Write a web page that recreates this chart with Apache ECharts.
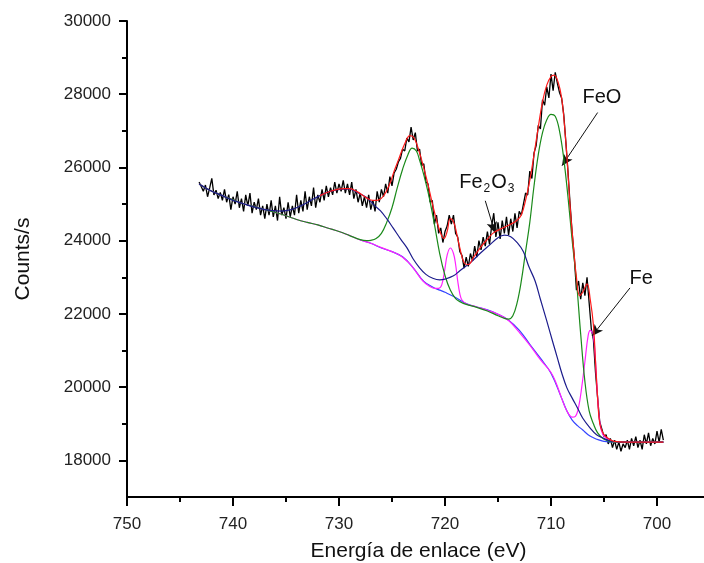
<!DOCTYPE html>
<html>
<head>
<meta charset="utf-8">
<script src="https://cdn.jsdelivr.net/npm/echarts@6/dist/echarts.min.js"></script>
<style>
html,body{margin:0;padding:0;background:#fff;}
#chart{width:704px;height:563px;}
</style>
</head>
<body>
<div id="chart"></div>
<script>
// ticks
var xMajorTicks = [750, 740, 730, 720, 710, 700];
var xMinorTicks = [745, 735, 725, 715, 705];
var yMajorTicks = [18000, 20000, 22000, 24000, 26000, 28000, 30000];
var yMinorTicks = [19000, 21000, 23000, 25000, 27000, 29000];

// measured spectrum, 0.2 eV step starting at 743.2 eV
var rawStart = 743.2;
var rawStep = 0.2;
var rawCounts = [
	25600,25480,25350,25520,25200,25440,25700,25250,25380,25150,
	25320,25100,25400,25050,25260,24850,25200,25000,25350,24900,
	25150,24800,25250,24950,25300,24750,25050,24850,25150,24700,
	24950,24600,25000,24700,25100,24650,24950,24550,25200,24700,
	24900,24600,25050,24650,24950,24700,25250,24750,25100,24800,
	25350,24850,25200,24950,25450,24900,25250,25050,25400,25100,
	25500,25200,25450,25250,25600,25300,25550,25350,25650,25300,
	25550,25250,25600,25150,25400,25050,25300,24950,25200,24900,
	25250,24850,25100,24800,25350,25050,25400,25200,25550,25300,
	25750,25500,25850,25950,26150,26250,26500,26450,26800,26700,
	27100,26750,26950,26450,26500,26050,26100,25600,25550,25050,
	25100,24450,24700,24200,24350,23950,24250,24400,24700,24450,
	24700,24200,24100,23700,23600,23250,23550,23300,23650,23450,
	23850,23550,24000,23750,24100,23850,24250,23900,24400,24750,
	24100,24500,24050,24550,24200,24650,24150,24600,24250,24750,
	24350,24800,24700,25000,25300,25250,25900,25700,26400,26600,
	27150,27050,27850,27700,28200,27900,28550,28100,28600,28300,
	28050,27900,27450,26700,25900,25000,24200,23550,22650,22900,
	22400,22850,22500,23000,22300,21600,21300,20400,19700,19050,
	18850,18650,18700,18450,18600,18350,18550,18300,18500,18250,
	18450,18350,18550,18300,18600,18400,18650,18350,18550,18300,
	18700,18450,18750,18400,18600,18450,18800,18500,18850,18550
];

// fitted curves [eV, counts]
var fitSum = [
	[731.8,25230],[730.8,25350],[729.6,25420],[729,25420],[728.3,25340],[727.4,25170],
	[726.8,25100],[726.3,25110],[725.8,25220],[725.2,25560],[724.8,25900],[724.4,26200],
	[723.8,26650],[723.3,26870],[722.9,26800],[722.4,26400],[721.7,25650],[721.1,24900],
	[720.5,24270],[720.1,24060],[719.8,24250],[719.5,24600],[719.2,24520],[718.9,24200],
	[718.6,23800],[718.2,23400],[717.8,23350],[717.3,23550],[716.7,23800],[716,24040],
	[715.4,24220],[714.6,24340],[713.8,24450],[713.2,24560],[712.8,24700],[712.4,25100],
	[712,25650],[711.6,26350],[711.2,27100],[710.8,27800],[710.4,28250],[710,28480],
	[709.7,28520],[709.3,28300],[709,27900],[708.8,27400],[708.5,26300],[708.2,24950],
	[707.9,23900],[707.6,23000],[707.3,22500],[707,22600],[706.6,22820],[706.3,22400],
	[706,21700],[705.8,20700],[705.6,19700],[705.4,19000],[705.1,18750],[704.7,18620],
	[704,18520],[703,18500],[699.4,18500]
];
var feoFit = [
	[743.2,25550],[742,25350],[741,25230],[740,25120],[739,25010],[738,24930],[737,24850],
	[736,24770],[735,24680],[734,24580],[733,24500],[732,24430],[731,24340],[730,24250],
	[729,24140],[728,24030],[727.4,24000],[727,24010],[726.5,24060],[726,24200],[725.5,24500],
	[725,24900],[724.5,25450],[724,25950],[723.5,26350],[723.1,26530],[722.7,26450],[722.4,26200],
	[722,25800],[721.5,25200],[721,24450],[720.5,23650],[720,23050],[719.5,22650],[719,22420],
	[718.5,22320],[718,22260],[717,22180],[716,22080],[715,21950],[714.4,21880],[714,21860],
	[713.6,21950],[713.2,22300],[712.8,22900],[712.4,23700],[712,24500],[711.6,25500],
	[711.2,26350],[710.8,26950],[710.4,27300],[710,27450],[709.6,27400],[709.2,27000],
	[708.8,26250],[708.4,25200],[708,24000],[707.6,22900],[707.2,21450],[706.8,20150],
	[706.4,19350],[706,19000],[705.6,18750],[705,18580],[704,18500],[699.4,18500]
];
var fe2o3Fit = [
	[743.2,25550],[742,25350],[741,25230],[740,25100],[739,25010],[738.4,24950],[737,24850],
	[736.2,24820],[735.4,24810],[734.6,24840],[733.6,24950],[732.7,25090],[731.8,25230],
	[730.8,25350],[729.6,25410],[729,25410],[728.3,25320],[727.4,25180],[726.6,24950],
	[726.1,24820],[725.5,24600],[724.9,24350],[724.2,24050],[723.6,23810],[723,23500],
	[722.4,23260],[721.8,23080],[721.2,22980],[720.5,22930],[720,22950],[719.2,23040],
	[718.6,23180],[717.6,23400],[716.7,23650],[715.8,23880],[715,24080],[714.4,24150],
	[713.8,24110],[713.2,23950],[712.6,23700],[712.1,23300],[711.5,22900],[711,22400],
	[710.4,21810],[709.8,21200],[709.4,20800],[709,20400],[708.5,19980],[708,19700],
	[707.5,19430],[707,19150],[706.3,18880],[705.7,18700],[705.1,18610],[704.4,18530],
	[703.5,18500],[699.4,18500]
];
var feFit = [
	[743.2,25550],[742,25350],[741,25230],[740,25120],[739,25010],[738,24930],[737,24850],
	[736,24770],[735,24680],[734,24580],[733,24500],[732,24430],[731,24340],[730,24250],
	[729,24140],[728,24020],[727,23930],[726,23810],[725,23700],[724.2,23590],[723.5,23420],
	[723,23260],[722.1,22900],[721.5,22760],[721,22700],[720.6,22700],[720.3,22800],
	[720,23250],[719.8,23600],[719.5,23800],[719.2,23650],[719,23350],[718.8,22900],
	[718.6,22550],[718.4,22380],[718,22280],[717,22190],[716,22100],[715,21990],[714,21820],
	[713,21500],[712,21150],[711,20750],[710,20400],[709.5,20100],[709,19700],[708.5,19350],
	[708,19180],[707.7,19200],[707.4,19450],[707.1,20000],[706.8,20700],[706.5,21400],
	[706.3,21550],[706,21380],[705.8,20700],[705.6,19700],[705.4,19050],[705.1,18700],
	[704.6,18570],[704,18500],[699.4,18500]
];
var background = [
	[728,24020],[727,23930],[726,23800],[725,23700],[724,23560],[723,23260],[722,22890],
	[721,22710],[720.5,22650],[720,22590],[719,22450],[718,22280],[717,22190],[716,22110],
	[715,21990],[714,21830],[713,21560],[712,21170],[711,20790],[710,20380],[709,19700],
	[708.5,19350],[708,19100],[707.5,18950],[707,18830],[706.5,18700],[706,18620],
	[705.5,18560],[705,18520],[704,18500],[699.4,18500]
];

// annotations: text anchors and arrows in data units
var labelNames = ['FeO', 'Fe{s|2}O{s|3}', 'Fe'];
var labelCoords = [[705.2, 27910], [716.0, 25600], [701.5, 22960]];
var arrowFrom = [[705.6, 27500], [716.2, 25090], [702.55, 22710]];
var arrowTo = [[708.96, 26050], [715.28, 24210], [706.13, 21400]];

function initChart(){
	var rawData = [];
	for(var i=0;i<rawCounts.length;i++){
		rawData.push([Math.round((rawStart - i*rawStep)*10)/10, rawCounts[i]]);
	}

	var arrows = [];
	for(var j=0;j<arrowFrom.length;j++){
		arrows.push([{coord: arrowFrom[j]}, {coord: arrowTo[j]}]);
	}
	var labels = [];
	for(var k=0;k<labelNames.length;k++){
		labels.push({name: labelNames[k], coord: labelCoords[k]});
	}

	var myChart = echarts.init(document.getElementById("chart"));
	var axisFont = 'Arial, "Liberation Sans", sans-serif';
	var option = {
		animation: false,
		backgroundColor: '#fff',
		// keep the plot box fixed, do not let v6 squeeze it for labels
		grid: {left: 127, right: -6, top: 21, bottom: 66, outerBoundsMode: 'none', containLabel: false},
		xAxis: [
			{
				type: 'value', min: 695, max: 750, inverse: true,
				name: 'Energía de enlace (eV)', nameLocation: 'middle', nameGap: 44,
				nameTextStyle: {fontSize: 21, color: '#111', fontFamily: axisFont},
				axisLine: {lineStyle: {color: '#000', width: 2}},
				axisTick: {length: 9, lineStyle: {color: '#000', width: 2}, customValues: xMajorTicks},
				axisLabel: {margin: 19, fontSize: 17, color: '#222', fontFamily: axisFont, customValues: xMajorTicks},
				splitLine: {show: false}
			},
			{
				type: 'value', min: 695, max: 750, inverse: true, position: 'bottom',
				axisLine: {show: false},
				axisTick: {length: 5, lineStyle: {color: '#000', width: 2}, customValues: xMinorTicks},
				axisLabel: {show: false},
				splitLine: {show: false}
			}
		],
		yAxis: [
			{
				type: 'value', min: 17000, max: 30000,
				name: 'Counts/s', nameLocation: 'middle', nameGap: 93,
				nameTextStyle: {fontSize: 21, color: '#111', fontFamily: axisFont},
				axisLine: {show: true, lineStyle: {color: '#000', width: 2}},
				axisTick: {show: true, length: 8, lineStyle: {color: '#000', width: 2}, customValues: yMajorTicks},
				axisLabel: {
					margin: 16, fontSize: 17, color: '#222', fontFamily: axisFont, customValues: yMajorTicks,
					formatter: function(v){ return String(v); }
				},
				splitLine: {show: false}
			},
			{
				type: 'value', min: 17000, max: 30000, position: 'left',
				axisLine: {show: false},
				axisTick: {show: true, length: 5, lineStyle: {color: '#000', width: 2}, customValues: yMinorTicks},
				axisLabel: {show: false},
				splitLine: {show: false}
			}
		],
		series: [
			{
				name: 'raw', type: 'line', data: rawData, showSymbol: false,
				lineStyle: {color: '#000', width: 1.3}, z: 2
			},
			{
				name: 'bg', type: 'line', data: background, showSymbol: false, smooth: 0.4,
				lineStyle: {color: '#3344ff', width: 1.2}, z: 3
			},
			{
				name: 'Fe', type: 'line', data: feFit, showSymbol: false, smooth: 0.4,
				lineStyle: {color: '#ff22ff', width: 1.2}, z: 4
			},
			{
				name: 'FeO', type: 'line', data: feoFit, showSymbol: false, smooth: 0.4,
				lineStyle: {color: '#1a8a1a', width: 1.2}, z: 5
			},
			{
				name: 'Fe2O3', type: 'line', data: fe2o3Fit, showSymbol: false, smooth: 0.4,
				lineStyle: {color: '#1c1c8c', width: 1.2}, z: 6
			},
			{
				name: 'sum', type: 'line', data: fitSum, showSymbol: false, smooth: 0.4,
				lineStyle: {color: '#ff1a1a', width: 1.2}, z: 7,
				markLine: {
					silent: true, symbol: ['none', 'arrow'], symbolSize: [8, 11],
					lineStyle: {color: '#111', width: 1, type: 'solid'},
					label: {show: false},
					data: arrows
				},
				markPoint: {
					silent: true, symbol: 'circle', symbolSize: 0,
					label: {
						show: true, position: 'inside', formatter: '{b}',
						fontSize: 20, color: '#111', fontFamily: axisFont,
						rich: {s: {fontSize: 12, color: '#111', fontFamily: axisFont, padding: [14, 1, 0, 1]}}
					},
					data: labels
				}
			}
		]
	};
	myChart.setOption(option);
}

initChart();
</script>
</body>
</html>
